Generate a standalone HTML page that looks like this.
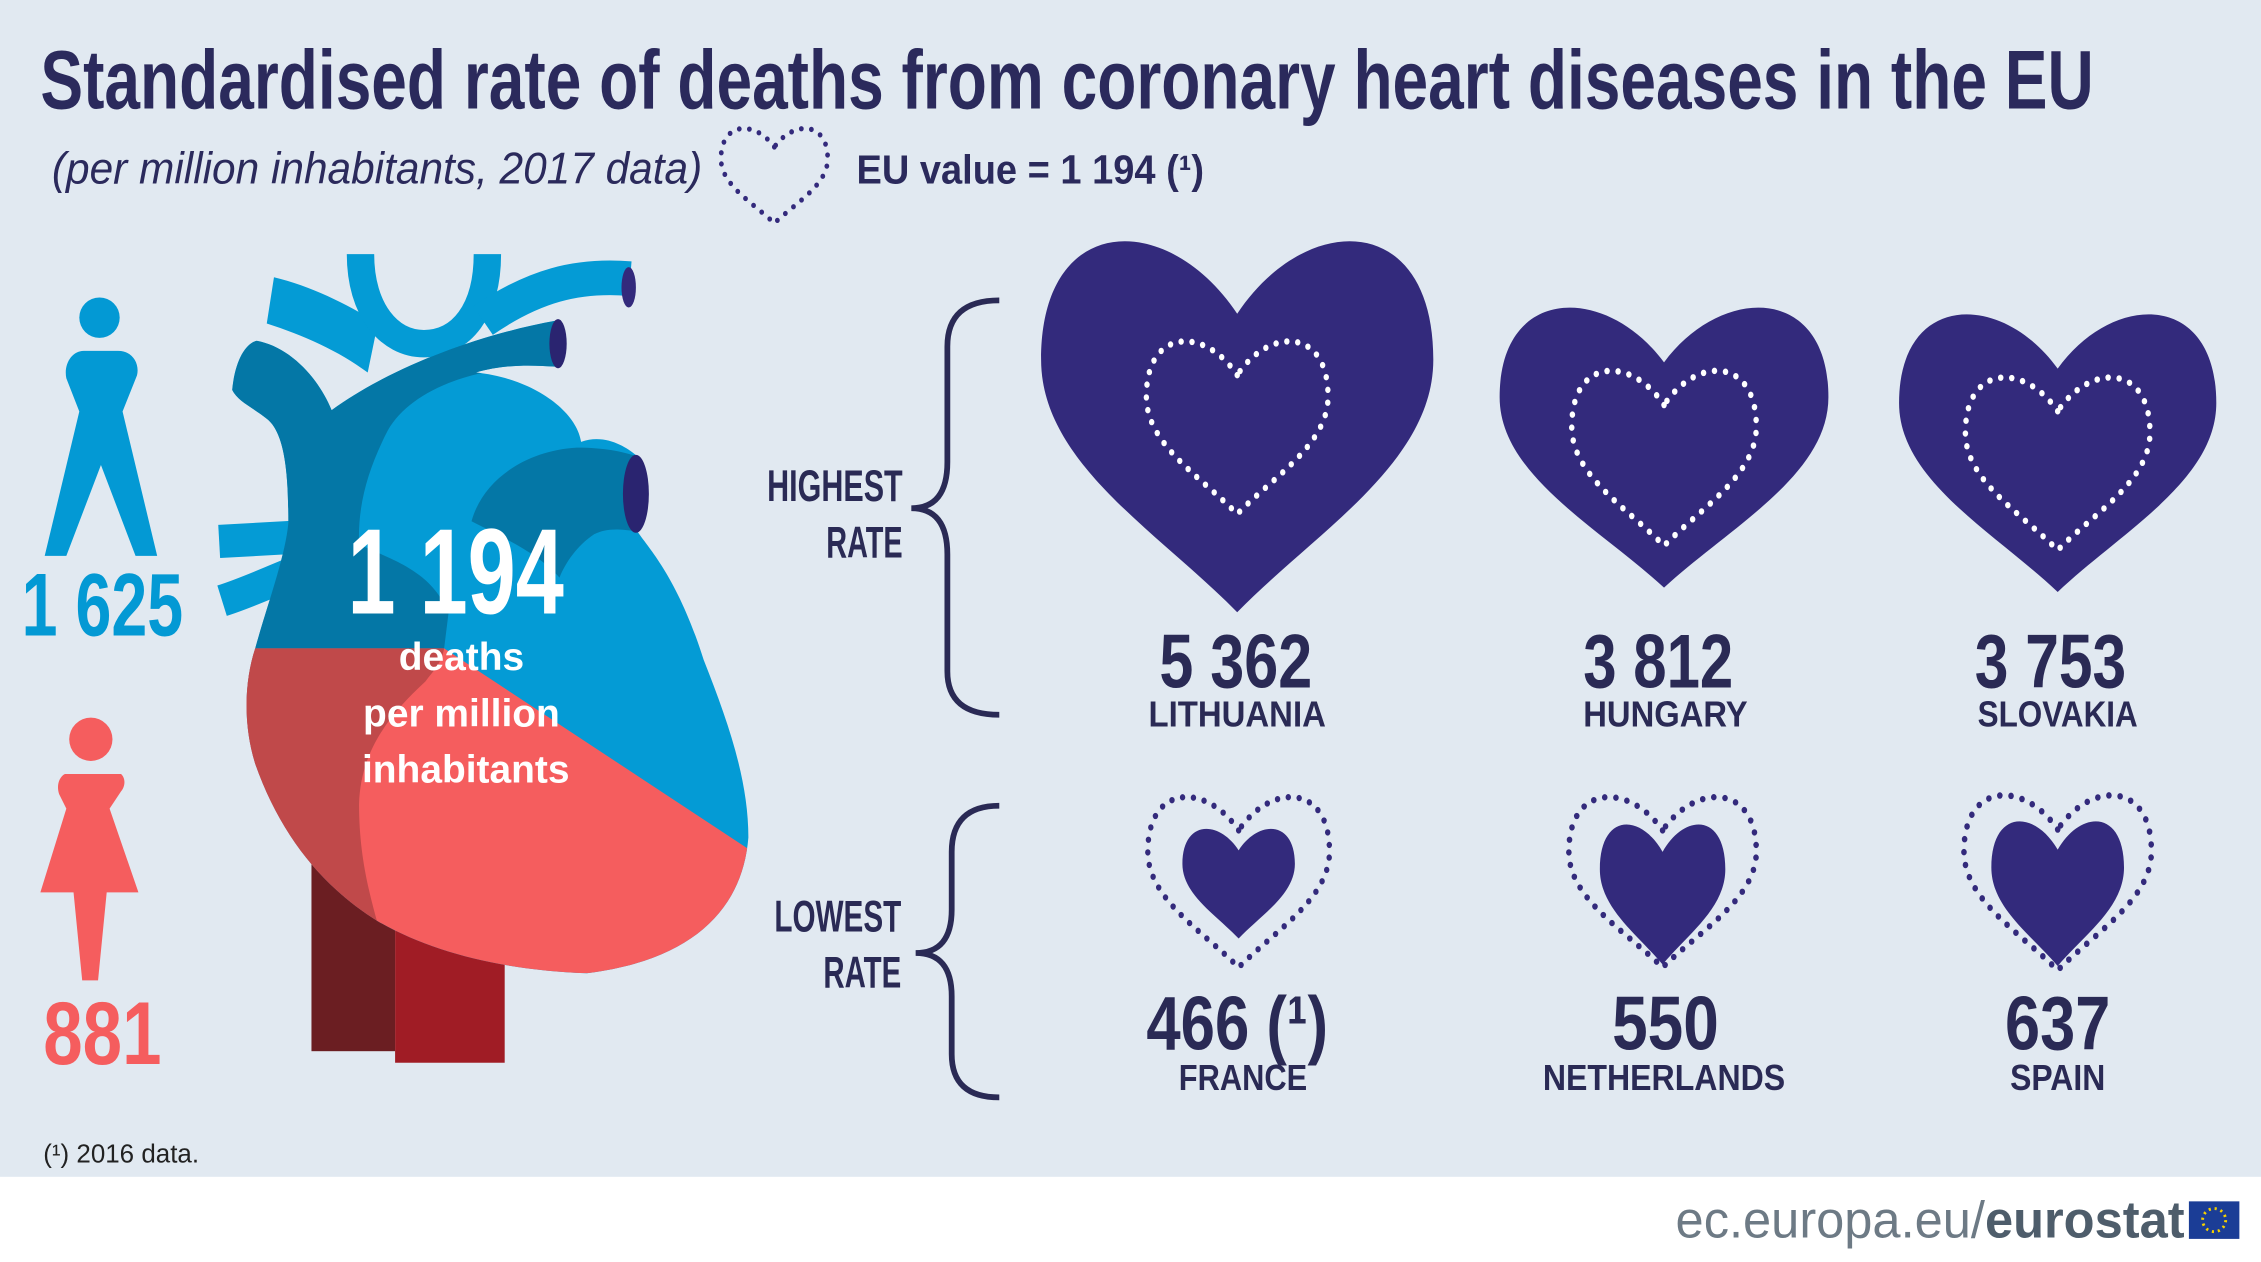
<!DOCTYPE html>
<html><head><meta charset="utf-8"><style>
html,body{margin:0;padding:0;background:#e1e9f1;}
svg{display:block;}
text{font-family:"Liberation Sans Narrow","Liberation Sans",sans-serif;}
</style></head><body>
<svg width="2261" height="1262" viewBox="0 0 1568 874" preserveAspectRatio="none" xmlns="http://www.w3.org/2000/svg">
<defs>
<path id="h" d="M0,-0.3 C-0.35,-0.75 -1,-0.75 -1,-0.1 C-1,0.35 -0.4,0.65 0,1 C0.4,0.65 1,0.35 1,-0.1 C1,-0.75 0.35,-0.75 0,-0.3Z"/>
<clipPath id="bodyc"><path id="bodyp" d="M161,270 C163,250 170,238 178,236 C200,240 220,260 230,284 C270,255 330,232 386,222 L386,254 C370,253 350,252 330,258 C370,262 400,285 403,306 C420,300 435,310 442,316 L442,368 C450,380 470,400 488,457 C505,500 519,540 519,580 C515,630 480,665 407,674 C350,672 300,660 262,638 C225,615 195,580 177,529 C168,500 170,470 177,449 C185,420 198,385 200,362 C200,330 198,300 185,290 C175,282 165,278 161,270 Z"/></clipPath>
</defs>
<rect width="1568" height="874" fill="#e1e9f1"/>
<rect y="815" width="1568" height="59" fill="#ffffff"/>

<text x="28" y="75" font-size="58" font-weight="bold" fill="#2b2a5c" textLength="1424" lengthAdjust="spacingAndGlyphs">Standardised rate of deaths from coronary heart diseases in the EU</text>
<text x="36" y="127" font-size="31" font-style="italic" fill="#2b2a5c" textLength="451" lengthAdjust="spacingAndGlyphs" font-family="Liberation Sans">(per million inhabitants, 2017 data)</text>
<use href="#h" transform="translate(537,114) scale(37,40.6)" fill="none" stroke="#332a7c" stroke-width="0.09" stroke-dasharray="0 0.19" stroke-linecap="round"/>
<text x="594" y="127" font-size="28" font-weight="bold" fill="#2b2a5c" textLength="241" lengthAdjust="spacingAndGlyphs" font-family="Liberation Sans">EU value = 1 194 (¹)</text>

<!-- man -->
<circle cx="69" cy="220" r="14" fill="#0399d4"/>
<path d="M58,243 L82,243 C92,243 97,252 95,260 L85,285 L109,385 L94,385 L70,322 L46,385 L31,385 L55,285 L46,262 C44,252 50,243 58,243Z" fill="#0399d4"/>
<text x="71" y="440" font-size="62" font-weight="bold" fill="#0399d4" text-anchor="middle" textLength="112" lengthAdjust="spacingAndGlyphs">1 625</text>
<!-- woman -->
<circle cx="63" cy="512" r="15" fill="#f55d5e"/>
<path d="M45,536 L84,536 C88,540 86,546 84,548 L76,560 L96,618 L74,618 L68,679 L57,679 L51,618 L28,618 L46,560 L41,550 C39,544 41,538 45,536Z" fill="#f55d5e"/>
<text x="71" y="737" font-size="62" font-weight="bold" fill="#f55d5e" text-anchor="middle" textLength="82" lengthAdjust="spacingAndGlyphs">881</text>

<!-- anatomical heart -->
<rect x="216" y="590" width="58" height="138" fill="#6b1e22"/>
<rect x="274" y="590" width="76" height="146" fill="#a01c25"/>
<path d="M190,192 C215,198 240,210 262,224 L255,258 C235,243 210,232 185,224Z" fill="#049bd5"/>
<path d="M250,176 C250,215 270,238 294,238 C320,238 338,215 338,176" fill="none" stroke="#049bd5" stroke-width="19"/>
<path d="M335,222 C370,198 400,190 437,193" fill="none" stroke="#049bd5" stroke-width="24"/>
<path d="M152,375 L205,372" stroke="#049bd5" stroke-width="23"/>
<path d="M154,416 C170,411 185,404 205,396" fill="none" stroke="#049bd5" stroke-width="22"/>
<ellipse cx="436" cy="199" rx="5" ry="14" fill="#332a7c"/>
<use href="#bodyp" fill="#049bd5"/>
<g clip-path="url(#bodyc)">
<path d="M161,270 C163,250 170,238 178,236 C200,240 220,260 230,284 C270,255 330,232 386,222 L386,254 C330,252 285,270 269,298 C255,325 248,350 249,377 C270,387 300,395 311,425 L308,449 L165,449 Z" fill="#0477a6"/>
<path d="M327,361 C335,332 365,312 400,310 C420,310 432,313 442,316 L442,368 C428,366 420,366 412,370 C400,378 392,390 388,400 C375,385 355,375 327,361 Z" fill="#0477a6"/>
<polygon points="160,449 308,449 519,588 560,588 560,700 160,700" fill="#f55d5e"/>
<path d="M160,449 L308,449 C306,460 300,465 295,472 C270,495 250,520 249,557 C249,590 255,615 262,640 L160,700Z" fill="#c0494a"/>
</g>
<ellipse cx="387" cy="238" rx="6" ry="17" fill="#2a2470"/>
<ellipse cx="441" cy="342" rx="9" ry="27" fill="#2a2470"/>
<text x="316" y="425" font-size="84" font-weight="bold" fill="#fff" text-anchor="middle" textLength="150" lengthAdjust="spacingAndGlyphs">1 194</text>
<g font-family="Liberation Sans" font-weight="bold" fill="#fff" font-size="27" text-anchor="middle">
<text x="320" y="464">deaths</text>
<text x="320" y="503">per million</text>
<text x="323" y="542">inhabitants</text>
</g>

<!-- brackets -->
<path d="M693,208 Q657,208 657,240 L657,320 Q657,352 632,352 Q657,352 657,384 L657,465 Q657,495 693,495" fill="none" stroke="#2a2a55" stroke-width="4"/>
<path d="M693,558 Q660,558 660,590 L660,630 Q660,660 635,660 Q660,660 660,690 L660,730 Q660,760 693,760" fill="none" stroke="#2a2a55" stroke-width="4"/>
<g font-size="31" font-weight="bold" fill="#2a2a55" text-anchor="end">
<text x="626" y="347" textLength="94" lengthAdjust="spacingAndGlyphs">HIGHEST</text><text x="626" y="386" textLength="53" lengthAdjust="spacingAndGlyphs">RATE</text>
<text x="625" y="645" textLength="88" lengthAdjust="spacingAndGlyphs">LOWEST</text><text x="625" y="684" textLength="54" lengthAdjust="spacingAndGlyphs">RATE</text>
</g>

<!-- highest hearts -->
<g fill="#332a7c">
<use href="#h" transform="translate(858,265) scale(136,159)"/>
<use href="#h" transform="translate(1154,287) scale(114,120)"/>
<use href="#h" transform="translate(1427,291) scale(110,119)"/>
</g>
<g fill="none" stroke="#fff" stroke-linecap="round">
<use href="#h" transform="translate(858,282) scale(63,74)" stroke-width="0.06" stroke-dasharray="0 0.12"/>
<use href="#h" transform="translate(1154,303) scale(64,75)" stroke-width="0.06" stroke-dasharray="0 0.12"/>
<use href="#h" transform="translate(1427,307) scale(64,74)" stroke-width="0.06" stroke-dasharray="0 0.12"/>
</g>
<!-- lowest hearts -->
<g fill="none" stroke="#332a7c" stroke-linecap="round">
<use href="#h" transform="translate(859,597) scale(63,73)" stroke-width="0.06" stroke-dasharray="0 0.12"/>
<use href="#h" transform="translate(1153,597) scale(65,73)" stroke-width="0.06" stroke-dasharray="0 0.12"/>
<use href="#h" transform="translate(1427,597) scale(65,75)" stroke-width="0.06" stroke-dasharray="0 0.12"/>
</g>
<g fill="#332a7c">
<use href="#h" transform="translate(859,603) scale(39,47)"/>
<use href="#h" transform="translate(1153,608) scale(43.5,60)"/>
<use href="#h" transform="translate(1427,607) scale(46,62)"/>
</g>

<g font-weight="bold" fill="#2a2a55" text-anchor="middle">
<text x="857" y="476" font-size="53" textLength="106" lengthAdjust="spacingAndGlyphs">5 362</text>
<text x="1150" y="476" font-size="53" textLength="104" lengthAdjust="spacingAndGlyphs">3 812</text>
<text x="1422" y="476" font-size="53" textLength="105" lengthAdjust="spacingAndGlyphs">3 753</text>
<text x="858" y="503" font-size="25" textLength="123" lengthAdjust="spacingAndGlyphs">LITHUANIA</text>
<text x="1155" y="503" font-size="25" textLength="114" lengthAdjust="spacingAndGlyphs">HUNGARY</text>
<text x="1427" y="503" font-size="25" textLength="111" lengthAdjust="spacingAndGlyphs">SLOVAKIA</text>
<text x="858" y="727" font-size="53" textLength="126" lengthAdjust="spacingAndGlyphs">466 (¹)</text>
<text x="1155" y="727" font-size="53" textLength="74" lengthAdjust="spacingAndGlyphs">550</text>
<text x="1427" y="727" font-size="53" textLength="73" lengthAdjust="spacingAndGlyphs">637</text>
<text x="862" y="755" font-size="25" textLength="89" lengthAdjust="spacingAndGlyphs">FRANCE</text>
<text x="1154" y="755" font-size="25" textLength="168" lengthAdjust="spacingAndGlyphs">NETHERLANDS</text>
<text x="1427" y="755" font-size="25" textLength="66" lengthAdjust="spacingAndGlyphs">SPAIN</text>
</g>

<text x="30" y="805" font-size="18" fill="#222" font-family="Liberation Sans">(¹) 2016 data.</text>

<text x="1162" y="857" font-size="36" fill="#6d7a85" font-family="Liberation Sans" textLength="353" lengthAdjust="spacingAndGlyphs">ec.europa.eu/<tspan font-weight="bold" fill="#4e5d6b">eurostat</tspan></text>
<rect x="1518" y="832" width="35" height="26" fill="#1b3d96"/>
<circle cx="1535.5" cy="845" r="8" fill="none" stroke="#f4d000" stroke-width="2" stroke-dasharray="1.5 2.7"/>
</svg>
</body></html>
